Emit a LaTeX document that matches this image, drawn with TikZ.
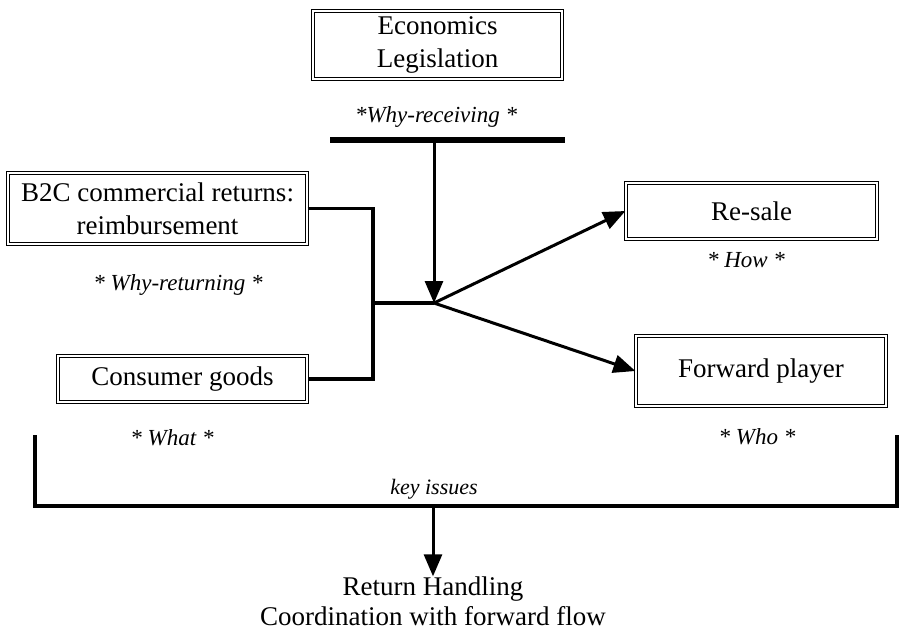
\documentclass[tikz,border=0pt]{standalone}
\usepackage{fontspec}
\setmainfont{Liberation Serif}
\usetikzlibrary{arrows.meta,calc}

\begin{document}
\begin{tikzpicture}[x=1pt, y=-1pt,
  box/.style={draw=black, line width=1.2pt, double=white, double distance=1.6pt,
    inner sep=0pt, align=center, font=\fontsize{27}{33}\selectfont},
  issue/.style={inner sep=0pt, font=\fontsize{23}{26}\selectfont\itshape},
  plain/.style={inner sep=0pt, align=center, font=\fontsize{27}{30}\selectfont},
  conn/.style={line width=3.5pt},
  flow/.style={line width=3pt, -{Triangle[length=22pt,width=18pt]}},
  bar/.style={line width=6pt},
  bracket/.style={line width=4pt, line join=miter}]

  \useasboundingbox (0,0) rectangle (899,633);

  % boxes
  \node[box, minimum width=249pt, minimum height=68pt] (econ) at (437.5,45)
    {Economics\\Legislation};
  \node[box, minimum width=299pt, minimum height=71pt] (b2c) at (157.5,208.5)
    {B2C commercial returns:\\reimbursement};
  \node[box, minimum width=249pt, minimum height=46pt] (consumer) at (182.5,379)
    {Consumer goods};
  \node[box, minimum width=251pt, minimum height=56pt] (resale) at (751.5,211)
    {Re-sale};
  \node[box, minimum width=250pt, minimum height=70pt] (forward) at (761,371)
    {Forward player};

  % key-issue labels
  \node[issue] (whyrec) at (436,117) {*Why-receiving *};
  \node[issue] (whyret) at (178,285) {* Why-returning *};
  \node[issue] (how) at (746,260) {* How *};
  \node[issue] (what) at (172,438) {* What *};
  \node[issue] (who) at (757,437) {* Who *};
  \node[issue, font=\fontsize{22}{26}\selectfont\itshape] (keyiss) at (434,489) {key issues};

  % outcome
  \node[plain] (result) at (433,601) {Return Handling\\Coordination with forward flow};

  % junction points
  \coordinate (barL) at (330,140);
  \coordinate (barR) at (565,140);
  \coordinate (barM) at (434,140);
  \coordinate (bus) at (373,303);
  \coordinate (hub) at (434,303);
  \coordinate (brL) at (35,435);
  \coordinate (brR) at (897,435);
  \coordinate (brM) at (433,506);

  % top bar and incoming arrow
  \draw[bar] (barL) -- (barR);
  \draw[flow] (barM) -- (hub);

  % merging returns
  \draw[conn] (b2c.east) -| (bus) |- (consumer.east);
  \draw[conn] (bus) -- (hub);

  % outgoing arrows
  \draw[flow] (hub) -- (resale.west);
  \draw[flow] (hub) -- (forward.west);

  % bracket and outcome arrow
  \draw[bracket] (brL) |- (brM) -| (brR);
  \draw[flow] (brM) -- (result.north);
\end{tikzpicture}
\end{document}
